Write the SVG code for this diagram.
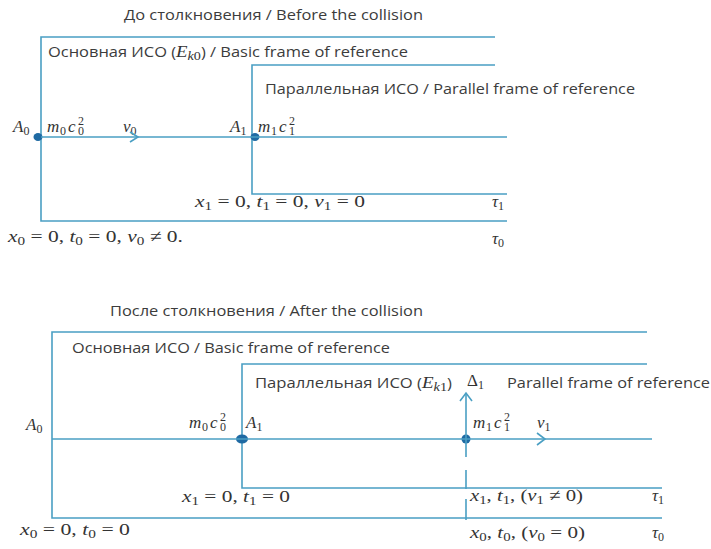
<svg xmlns="http://www.w3.org/2000/svg" width="711" height="549" viewBox="0 0 711 549">
<style>
.ln{fill:none;stroke:#4a9fc3;stroke-width:1.6;stroke-linecap:butt;stroke-linejoin:miter}
.dot{fill:#1f6aa3}
.t{font-family:"Open Sans","Liberation Sans",sans-serif;font-size:14px;fill:#3c3c3c}
.m{font-family:"Liberation Serif",serif;font-style:italic;font-size:17px;fill:#333}
.u{font-style:normal}
.sb{font-size:12px;font-style:normal}
.sbi{font-size:12px;font-style:italic}
</style>
<rect width="711" height="549" fill="#fff"/>

<!-- ===== BEFORE THE COLLISION ===== -->
<g id="title-before">
<text class="t" x="124" y="20" textLength="299" lengthAdjust="spacingAndGlyphs">До столкновения / Before the collision</text>
</g>
<g id="basic-frame-before">
<path class="ln" d="M495,37 H41 V221 H507"/>
<text class="t" x="48" y="57" textLength="360" lengthAdjust="spacingAndGlyphs">Основная ИСО (<tspan class="m" style="font-size:16px">E</tspan><tspan class="m sbi" dy="3">k</tspan><tspan class="m sb">0</tspan><tspan dy="-3">) / Basic frame of reference</tspan></text>
<text class="m" x="8" y="242" textLength="175" lengthAdjust="spacingAndGlyphs">x<tspan class="sb" dy="3">0</tspan><tspan class="u" dy="-3"> = 0, </tspan>t<tspan class="sb" dy="3">0</tspan><tspan class="u" dy="-3"> = 0, </tspan>v<tspan class="sb" dy="3">0</tspan><tspan class="u" dy="-3"> ≠ 0.</tspan></text>
<text class="m" x="492" y="244">τ<tspan class="sb" dy="3">0</tspan></text>
</g>
<g id="parallel-frame-before">
<path class="ln" d="M495,65 H252 V194 H507"/>
<text class="t" x="265" y="94" textLength="370" lengthAdjust="spacingAndGlyphs">Параллельная ИСО / Parallel frame of reference</text>
<text class="m" x="195" y="207" textLength="170" lengthAdjust="spacingAndGlyphs">x<tspan class="sb" dy="3">1</tspan><tspan class="u" dy="-3"> = 0, </tspan>t<tspan class="sb" dy="3">1</tspan><tspan class="u" dy="-3"> = 0, </tspan>v<tspan class="sb" dy="3">1</tspan><tspan class="u" dy="-3"> = 0</tspan></text>
<text class="m" x="492" y="207">τ<tspan class="sb" dy="3">1</tspan></text>
</g>
<g id="point-A0-before">
<ellipse class="dot" cx="38" cy="137" rx="4.5" ry="4"/>
<text class="m" x="13" y="132">A<tspan class="sb" dy="3">0</tspan></text>
<text class="m" y="132"><tspan x="47">m</tspan><tspan class="sb" x="60" dy="3">0</tspan><tspan x="68" dy="-3">c</tspan><tspan class="sb" x="78" dy="-7">2</tspan><tspan class="sb" x="78" dy="10">0</tspan></text>
<text class="m" x="123" y="132">v<tspan class="sb" dy="3">0</tspan></text>
</g>
<g id="point-A1-before">
<ellipse class="dot" cx="255" cy="137" rx="4.5" ry="4"/>
<text class="m" x="230" y="132">A<tspan class="sb" dy="3">1</tspan></text>
<text class="m" y="132"><tspan x="258">m</tspan><tspan class="sb" x="271" dy="3">1</tspan><tspan x="279" dy="-3">c</tspan><tspan class="sb" x="289" dy="-7">2</tspan><tspan class="sb" x="289" dy="10">1</tspan></text>
</g>

<!-- ===== AFTER THE COLLISION ===== -->
<g id="title-after">
<text class="t" x="110" y="316" textLength="313" lengthAdjust="spacingAndGlyphs">После столкновения / After the collision</text>
</g>
<g id="basic-frame-after">
<path class="ln" d="M647,332 H52 V518 H662"/>
<text class="t" x="72" y="353" textLength="318" lengthAdjust="spacingAndGlyphs">Основная ИСО / Basic frame of reference</text>
<text class="m" x="20" y="535" textLength="110" lengthAdjust="spacingAndGlyphs">x<tspan class="sb" dy="3">0</tspan><tspan class="u" dy="-3"> = 0, </tspan>t<tspan class="sb" dy="3">0</tspan><tspan class="u" dy="-3"> = 0</tspan></text>
<text class="m" x="470" y="538" textLength="115" lengthAdjust="spacingAndGlyphs">x<tspan class="sb" dy="3">0</tspan><tspan class="u" dy="-3">, </tspan>t<tspan class="sb" dy="3">0</tspan><tspan class="u" dy="-3">, (</tspan>v<tspan class="sb" dy="3">0</tspan><tspan class="u" dy="-3"> = 0)</tspan></text>
<text class="m" x="652" y="538">τ<tspan class="sb" dy="3">0</tspan></text>
</g>
<g id="parallel-frame-after">
<path class="ln" d="M647,364 H242 V488 H662"/>
<text class="t" x="255" y="388" textLength="197" lengthAdjust="spacingAndGlyphs">Параллельная ИСО (<tspan class="m" style="font-size:16px">E</tspan><tspan class="m sbi" dy="3">k</tspan><tspan class="m sb">1</tspan><tspan dy="-3">)</tspan></text>
<text class="t" x="507" y="388" textLength="203" lengthAdjust="spacingAndGlyphs">Parallel frame of reference</text>
<text class="m" x="182" y="502" textLength="108" lengthAdjust="spacingAndGlyphs">x<tspan class="sb" dy="3">1</tspan><tspan class="u" dy="-3"> = 0, </tspan>t<tspan class="sb" dy="3">1</tspan><tspan class="u" dy="-3"> = 0</tspan></text>
<text class="m" x="470" y="501" textLength="113" lengthAdjust="spacingAndGlyphs">x<tspan class="sb" dy="3">1</tspan><tspan class="u" dy="-3">, </tspan>t<tspan class="sb" dy="3">1</tspan><tspan class="u" dy="-3">, (</tspan>v<tspan class="sb" dy="3">1</tspan><tspan class="u" dy="-3"> ≠ 0)</tspan></text>
<text class="m" x="652" y="501">τ<tspan class="sb" dy="3">1</tspan></text>
</g>
<g id="point-A0-after">
<text class="m" x="26" y="430">A<tspan class="sb" dy="3">0</tspan></text>
</g>
<g id="point-A1-after">
<ellipse class="dot" cx="242" cy="439" rx="6" ry="4.5"/>
<text class="m" y="428"><tspan x="189">m</tspan><tspan class="sb" x="202" dy="3">0</tspan><tspan x="210" dy="-3">c</tspan><tspan class="sb" x="220" dy="-7">2</tspan><tspan class="sb" x="220" dy="10">0</tspan></text>
<text class="m" x="246" y="428">A<tspan class="sb" dy="3">1</tspan></text>
</g>
<g id="point-m1-after">
<ellipse class="dot" cx="466" cy="439" rx="4.5" ry="4.5"/>
<text class="m" y="428"><tspan x="473">m</tspan><tspan class="sb" x="486" dy="3">1</tspan><tspan x="494" dy="-3">c</tspan><tspan class="sb" x="504" dy="-7">2</tspan><tspan class="sb" x="504" dy="10">1</tspan></text>
<text class="m" x="537" y="428">v<tspan class="sb" dy="3">1</tspan></text>
<text class="m" x="467" y="386"><tspan class="u">Δ</tspan><tspan class="sb" dy="3">1</tspan></text>
</g>

<!-- ===== CONNECTORS ===== -->
<g id="connectors">
<path class="ln" d="M41,137 H507"/>
<polyline class="ln" points="130,132 138,137 130,142"/>
<path class="ln" d="M52,439 H652"/>
<polyline class="ln" points="537,433 545,439 537,445"/>
<path class="ln" d="M466,439 V393"/>
<polyline class="ln" points="460,401 466,393 472,401"/>
<path class="ln" d="M466,439 V457 M466,470 V489 M466,499 V520"/>
</g>
</svg>
